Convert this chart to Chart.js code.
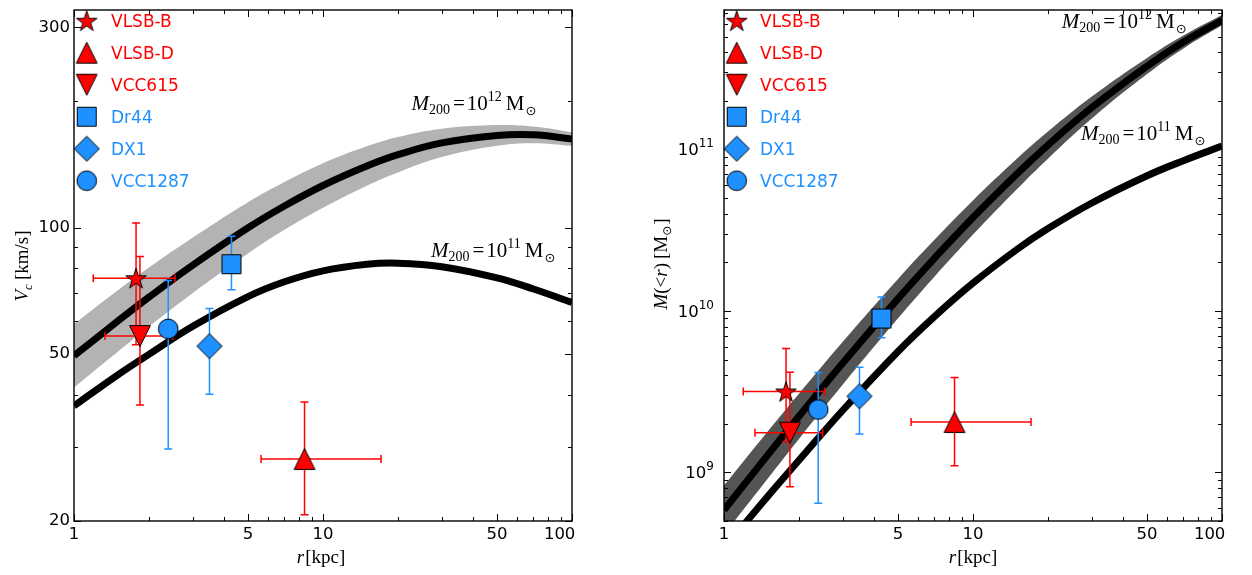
<!DOCTYPE html>
<html><head><meta charset="utf-8">
<script src="https://cdn.jsdelivr.net/npm/chart.js@4.4.0/dist/chart.umd.min.js"></script>
<style>
html,body{margin:0;padding:0;background:#fff;}
#wrap{display:flex;width:1252px;height:575px;}
canvas{display:block;}
</style></head><body>
<div id="wrap"><canvas id="c1" width="626" height="575"></canvas><canvas id="c2" width="626" height="575"></canvas></div>
<script>
// ---------------- data ----------------
const galaxyNames = ['VLSB-B', 'VLSB-D', 'VCC615', 'Dr44', 'DX1', 'VCC1287'];
const rKpc   = [1.775, 8.43, 1.84, 4.29, 3.50, 2.39];
const rLoKpc = [1.195, 5.64, 1.332, null, null, null];
const rHiKpc = [2.545, 17.1, 2.49, null, null, null];

const vcKms = [75.8, 28.1, 55.2, 81.8, 52.2, 57.4];
const vcLo  = [52.6, 20.7, 37.8, 71.1, 40.1, 29.7];
const vcHi  = [102.6, 38.4, 85.3, 95.4, 64.2, 74.8];

const massMsun = [3.17e9, 2.05e9, 1.76e9, 8.97e9, 2.96e9, 2.45e9];
const massLo   = [1.55e9, 1.1e9, 8.15e8, 6.82e9, 1.73e9, 6.43e8];
const massHi   = [5.86e9, 3.87e9, 4.17e9, 1.22e10, 4.48e9, 4.15e9];

const rModel = [1, 1.5, 2, 3, 5, 7, 10, 15, 20, 30, 50, 70, 100];
const vc12   = [49.5, 59.9, 68.3, 81.4, 99.9, 112.6, 126.0, 140.2, 149.2, 159.2, 165.8, 166.4, 162.6];
const vc12Hi = [58.9, 70.9, 80.3, 94.7, 115.0, 128.4, 142.4, 156.2, 164.4, 172.1, 175.6, 174.2, 168.8];
const vc12Lo = [41.6, 50.6, 58.1, 69.9, 86.8, 98.8, 111.5, 125.9, 135.4, 147.3, 156.6, 158.9, 156.6];
const vc11   = [37.6, 44.6, 49.9, 58.2, 68.5, 74.3, 78.9, 81.8, 82.3, 80.7, 75.9, 71.4, 66.3];
const m12    = [5.85e8, 1.284e9, 2.225e9, 4.75e9, 1.192e10, 2.118e10, 3.79e10, 7.04e10, 1.063e11, 1.815e11, 3.28e11, 4.63e11, 6.31e11];
const m12Hi  = [8.28e8, 1.798e9, 3.07e9, 6.44e9, 1.578e10, 2.754e10, 4.83e10, 8.74e10, 1.289e11, 2.123e11, 3.686e11, 5.076e11, 6.795e11];
const m12Lo  = [4.13e8, 9.18e8, 1.612e9, 3.50e9, 9.00e9, 1.629e10, 2.968e10, 5.67e10, 8.76e10, 1.552e11, 2.927e11, 4.222e11, 5.865e11];
const m11    = [3.38e8, 7.12e8, 1.188e9, 2.425e9, 5.61e9, 9.22e9, 1.487e10, 2.40e10, 3.236e10, 4.66e10, 6.87e10, 8.52e10, 1.049e11];

const xTickVals = [1, 5, 10, 50, 100];
const xTickLabels = ['1', '5', '10', '50', '100'];
const vcTickVals = [20, 50, 100, 300];
const vcTickLabels = ['20', '50', '100', '300'];
const massTickVals = [1e9, 1e10, 1e11];
const massTickBase = ['10', '10', '10'];
const massTickExp = ['9', '10', '11'];

// ---------------- styles ----------------
const RED = '#ff0000', BLUE = '#1e90ff';
const galaxyColor = [RED, RED, RED, BLUE, BLUE, BLUE];
const galaxyShape = ['star', 'tri', 'triDown', 'square', 'diamond', 'circle'];
const SERIF = '"Liberation Serif", "DejaVu Serif", serif';
const SANS = '"DejaVu Sans", sans-serif';
const TICKFONT = 16.5;
Chart.defaults.font.family = SANS;

function markerCanvas(shape, fill) {
  const S = 32, h = S / 2, c = document.createElement('canvas');
  c.width = S; c.height = S;
  const g = c.getContext('2d');
  g.beginPath();
  if (shape === 'star') {
    const R = 10.8, r = R * 0.382;
    for (let i = 0; i < 10; i++) {
      const a = -Math.PI / 2 + i * Math.PI / 5, rr = i % 2 ? r : R;
      const px = h + rr * Math.cos(a), py = h + 1 + rr * Math.sin(a);
      i ? g.lineTo(px, py) : g.moveTo(px, py);
    }
  } else if (shape === 'tri') {
    const s = 10.4; g.moveTo(h, h - s); g.lineTo(h + s, h + s); g.lineTo(h - s, h + s);
  } else if (shape === 'triDown') {
    const s = 10.4; g.moveTo(h, h + s); g.lineTo(h + s, h - s); g.lineTo(h - s, h - s);
  } else if (shape === 'square') {
    g.rect(h - 9.5, h - 9.5, 19, 19);
  } else if (shape === 'diamond') {
    const d = 12.5; g.moveTo(h, h - d); g.lineTo(h + d, h); g.lineTo(h, h + d); g.lineTo(h - d, h);
  } else {
    g.arc(h, h, 9.8, 0, Math.PI * 2);
  }
  g.closePath();
  g.fillStyle = fill; g.fill();
  g.lineWidth = 1; g.strokeStyle = '#000'; g.stroke();
  return c;
}
const markers = galaxyShape.map((s, i) => markerCanvas(s, galaxyColor[i]));

function richWidth(ctx, pieces) {
  let w = 0;
  for (const p of pieces) { ctx.font = p.f; w += (p.g || 0) + ctx.measureText(p.t).width; }
  return w;
}
function drawRich(ctx, x, y, pieces, opt) {
  opt = opt || {};
  ctx.save();
  ctx.translate(x, y);
  if (opt.rotate) ctx.rotate(opt.rotate);
  let cx = opt.center ? -richWidth(ctx, pieces) / 2 : (opt.right ? -richWidth(ctx, pieces) : 0);
  ctx.textBaseline = 'alphabetic'; ctx.textAlign = 'left'; ctx.fillStyle = '#000';
  for (const p of pieces) {
    ctx.font = p.f; cx += p.g || 0;
    ctx.fillText(p.t, cx, p.dy || 0);
    cx += ctx.measureText(p.t).width;
  }
  ctx.restore();
}
function m200Label(exp) {
  return [
    {t: 'M', f: `italic 21px ${SERIF}`},
    {t: '200', f: `14px ${SERIF}`, dy: 4},
    {t: '=', f: `21px ${SERIF}`, g: 3},
    {t: '10', f: `21px ${SERIF}`, g: 2},
    {t: exp, f: `14px ${SERIF}`, dy: -9},
    {t: 'M', f: `21px ${SERIF}`, g: 4},
    {t: '\u2299', f: `13px ${SANS}`, dy: 5, g: 1}
  ];
}
const xTitle = [{t: 'r', f: `italic 19px ${SERIF}`}, {t: '[kpc]', f: `19px ${SERIF}`, g: 1}];
const vcTitle = [{t: 'V', f: `italic 19px ${SERIF}`}, {t: 'c', f: `italic 13px ${SERIF}`, dy: 4},
                 {t: '[km/s]', f: `19px ${SERIF}`, g: 4}];
const mTitle = [{t: 'M', f: `italic 19px ${SERIF}`}, {t: '(', f: `19px ${SERIF}`},
                {t: '<', f: `19px ${SERIF}`}, {t: 'r', f: `italic 19px ${SERIF}`},
                {t: ')', f: `19px ${SERIF}`}, {t: '[M', f: `19px ${SERIF}`, g: 4},
                {t: '\u2299', f: `12px ${SANS}`, dy: 4}, {t: ']', f: `19px ${SERIF}`, g: 1}];

function logMinors(min, max, majors) {
  const out = [];
  for (let e = Math.floor(Math.log10(min)); e <= Math.ceil(Math.log10(max)); e++) {
    for (let m = 1; m < 10; m++) {
      const v = m * Math.pow(10, e);
      if (v >= min * 0.999 && v <= max * 1.001 && !majors.some(t => Math.abs(t - v) / v < 1e-6)) out.push(v);
    }
  }
  return out;
}

// ---------------- plugin: error bars, inward ticks, frame, texts, legend ----------------
const deco = {
  id: 'deco',
  beforeDatasetDraw(chart, args) {
    if (args.index !== galaxyNames.length - 1) return;
    const ctx = chart.ctx, xs = chart.scales.x, ys = chart.scales.y;
    ctx.save();
    ctx.lineWidth = 1.5;
    chart.data.datasets.forEach(ds => {
      if (!ds.err) return;
      const e = ds.err, p = ds.data[0];
      const px = xs.getPixelForValue(p.x), py = ys.getPixelForValue(p.y);
      ctx.strokeStyle = ds.errColor;
      ctx.beginPath();
      if (e.xlo != null) {
        const a = xs.getPixelForValue(e.xlo), b = xs.getPixelForValue(e.xhi);
        ctx.moveTo(a, py); ctx.lineTo(b, py);
        ctx.moveTo(a, py - 4); ctx.lineTo(a, py + 4);
        ctx.moveTo(b, py - 4); ctx.lineTo(b, py + 4);
      }
      if (e.ylo != null) {
        const a = ys.getPixelForValue(e.ylo), b = ys.getPixelForValue(e.yhi);
        ctx.moveTo(px, a); ctx.lineTo(px, b);
        ctx.moveTo(px - 4, a); ctx.lineTo(px + 4, a);
        ctx.moveTo(px - 4, b); ctx.lineTo(px + 4, b);
      }
      ctx.stroke();
    });
    ctx.restore();
  },
  afterDatasetsDraw(chart, args, o) {
    const ctx = chart.ctx, a = chart.chartArea, xs = chart.scales.x, ys = chart.scales.y;
    ctx.save();
    ctx.strokeStyle = '#000'; ctx.lineWidth = 1;
    ctx.beginPath();
    const xm = o.xMajors, ym = o.yMajors;
    const xAll = xm.map(v => [v, 7]).concat(logMinors(xs.min, xs.max, xm).map(v => [v, 4]));
    const yAll = ym.map(v => [v, 7]).concat(logMinors(ys.min, ys.max, ym).map(v => [v, 4]));
    for (const [v, L] of xAll) {
      const p = Math.round(xs.getPixelForValue(v)) + 0.5;
      ctx.moveTo(p, a.bottom); ctx.lineTo(p, a.bottom - L);
      ctx.moveTo(p, a.top); ctx.lineTo(p, a.top + L);
    }
    for (const [v, L] of yAll) {
      const p = Math.round(ys.getPixelForValue(v)) + 0.5;
      ctx.moveTo(a.left, p); ctx.lineTo(a.left + L, p);
      ctx.moveTo(a.right, p); ctx.lineTo(a.right - L, p);
    }
    ctx.stroke();
    ctx.lineWidth = 1.4;
    ctx.strokeRect(a.left, a.top, a.right - a.left, a.bottom - a.top);
    // power-of-ten tick labels
    if (o.powerLabels) {
      o.powerLabels.vals.forEach((v, i) => {
        const p = ys.getPixelForValue(v);
        drawRich(ctx, a.left - o.powerLabels.pad, p + 6, [
          {t: o.powerLabels.base[i], f: `${TICKFONT}px ${SANS}`},
          {t: o.powerLabels.exp[i], f: `12px ${SANS}`, dy: -8}
        ], {right: true});
      });
    }
    // texts
    for (const l of o.labels) drawRich(ctx, l.x, l.y, l.pieces);
    drawRich(ctx, o.xtitle.x, o.xtitle.y, xTitle, {center: true});
    drawRich(ctx, o.ytitle.x, o.ytitle.y, o.ytitle.pieces, {center: true, rotate: -Math.PI / 2});
    // legend
    ctx.font = `17px ${SANS}`; ctx.textBaseline = 'alphabetic'; ctx.textAlign = 'left';
    galaxyNames.forEach((name, i) => {
      const y = o.legend.y0 + i * o.legend.dy;
      ctx.drawImage(markers[i], o.legend.mx - 16, y - 16);
      ctx.fillStyle = galaxyColor[i];
      ctx.fillText(name, o.legend.tx, y + 6);
    });
    ctx.restore();
  }
};

// ---------------- chart builders ----------------
function logScale(pos, min, max, vals, labels, size, pad) {
  return {
    type: 'logarithmic', position: pos, min: min, max: max,
    grid: {display: false, drawTicks: false}, border: {display: false},
    ticks: {
      color: '#000', font: {family: SANS, size: TICKFONT}, padding: pad,
      autoSkip: false, maxRotation: 0, minRotation: 0,
      callback: (v) => {
        if (!labels) return '';
        const k = vals.findIndex(t => Math.abs(t - v) / t < 1e-6);
        if (k < 0) return '';
        // last bottom label kept inside the frame, as in the reference
        return (pos === 'bottom' && k === vals.length - 1) ? labels[k] + '\u2002\u2002\u2002' : labels[k];
      }
    },
    afterBuildTicks: (s) => { s.ticks = vals.map(v => ({value: v})); },
    afterFit: (s) => {
      if (pos === 'bottom') s.height = size; else s.width = size;
      s.paddingTop = 0; s.paddingBottom = 0; s.paddingLeft = 0; s.paddingRight = 0;
    }
  };
}
function galaxySets(yv, ylo, yhi) {
  return galaxyNames.map((name, i) => ({
    label: name, data: [{x: rKpc[i], y: yv[i]}], showLine: false,
    pointStyle: markers[i], pointRadius: 10, pointHoverRadius: 10, pointBorderWidth: 0,
    err: {xlo: rLoKpc[i], xhi: rHiKpc[i], ylo: ylo[i], yhi: yhi[i]}, errColor: galaxyColor[i], clip: false
  }));
}
function curveSet(vals, extra) {
  return Object.assign({
    data: rModel.map((x, i) => ({x: x, y: vals[i]})), pointRadius: 0, pointHoverRadius: 0,
    tension: 0.4, fill: false, clip: 0, borderColor: '#000', borderWidth: 7
  }, extra || {});
}
function makeChart(id, cfg) {
  return new Chart(document.getElementById(id), {
    type: 'line',
    data: {datasets: galaxySets(cfg.yv, cfg.ylo, cfg.yhi).concat([
      curveSet(cfg.c12),
      curveSet(cfg.c11),
      curveSet(cfg.b12hi, {borderWidth: 0, borderColor: 'rgba(0,0,0,0)', backgroundColor: cfg.bandColor, fill: '+1'}),
      curveSet(cfg.b12lo, {borderWidth: 0, borderColor: 'rgba(0,0,0,0)'})
    ])},
    options: {
      responsive: false, animation: false, events: [],
      layout: {padding: {top: 6, right: cfg.padRight, left: 0, bottom: 0}},
      plugins: {legend: {display: false}, tooltip: {enabled: false}, deco: cfg.deco},
      scales: {
        x: logScale('bottom', 1, 100, xTickVals, xTickLabels, 54, 4),
        y: logScale('left', cfg.ymin, cfg.ymax, cfg.yTicks, cfg.yLabels, cfg.yWidth, cfg.yPad)
      }
    },
    plugins: [deco]
  });
}

makeChart('c1', {
  yv: vcKms, ylo: vcLo, yhi: vcHi, c12: vc12, c11: vc11, b12hi: vc12Hi, b12lo: vc12Lo,
  bandColor: '#b3b3b3', ymin: 20, ymax: 330, yTicks: vcTickVals, yLabels: vcTickLabels,
  yWidth: 74, yPad: 4, padRight: 54,
  deco: {
    xMajors: xTickVals, yMajors: vcTickVals,
    labels: [{x: 411.5, y: 109.5, pieces: m200Label('12')}, {x: 431, y: 256.5, pieces: m200Label('11')}],
    xtitle: {x: 321, y: 563},
    ytitle: {x: 28, y: 266, pieces: vcTitle},
    legend: {mx: 86.7, tx: 111, y0: 20.7, dy: 32}
  }
});
makeChart('c2', {
  yv: massMsun, ylo: massLo, yhi: massHi, c12: m12, c11: m11, b12hi: m12Hi, b12lo: m12Lo,
  bandColor: '#555555', ymin: 5e8, ymax: 7.3e11, yTicks: massTickVals, yLabels: null,
  yWidth: 98, yPad: 10, padRight: 30,
  deco: {
    xMajors: xTickVals, yMajors: massTickVals,
    powerLabels: {vals: massTickVals, base: massTickBase, exp: massTickExp, pad: 10},
    labels: [{x: 435.7, y: 27.5, pieces: m200Label('12')}, {x: 455, y: 140, pieces: m200Label('11')}],
    xtitle: {x: 347, y: 563},
    ytitle: {x: 41, y: 264, pieces: mTitle},
    legend: {mx: 110.7, tx: 134, y0: 20.7, dy: 32}
  }
});
</script>
</body></html>
